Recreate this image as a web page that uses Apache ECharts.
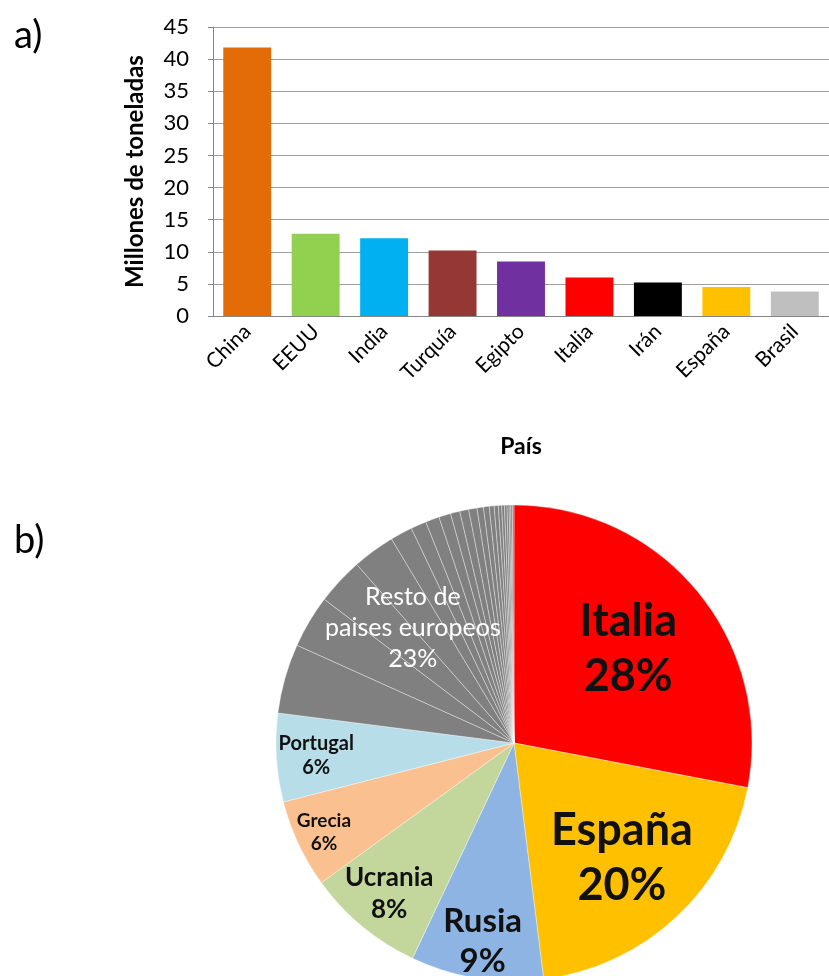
<!DOCTYPE html>
<html>
<head>
<meta charset="utf-8">
<title>Producción</title>
<script src="https://cdn.jsdelivr.net/npm/echarts/dist/echarts.min.js"></script>
<style>
html, body { margin: 0; padding: 0; background: #fff; }
#main { width: 829px; height: 976px; }
</style>
</head>
<body>
<div id="main"></div>
<script>
// a) barras
var paises = ['China', 'EEUU', 'India', 'Turquía', 'Egipto', 'Italia', 'Irán', 'España', 'Brasil'];
var toneladas = [41.8, 12.8, 12.1, 10.2, 8.5, 6.0, 5.2, 4.5, 3.8];
var coloresBarras = ['#E36C09', '#92D050', '#00B0F0', '#953735', '#7030A0', '#FF0000', '#000000', '#FFC000', '#BFBFBF'];

// b) tarta
var piePaises = ['Italia', 'España', 'Rusia', 'Ucrania', 'Grecia', 'Portugal', 'Resto de\npaises europeos'];
var pieValores = [28, 20, 9, 8, 6, 6, 23];
var pieColores = ['#FF0000', '#FFC000', '#8EB4E3', '#C3D69B', '#FAC090', '#B7DEE8', '#808080'];
// el "resto" está partido en muchos países pequeños
var restoValores = [4.72, 3.58, 3.19, 2.89, 1.5, 1.06, 0.94, 0.81, 0.63, 0.61, 0.56, 0.44, 0.39, 0.33, 0.28, 0.22, 0.19, 0.17, 0.14, 0.11, 0.11, 0.11];

// estilo de las etiquetas de la tarta
var etiquetaTam = [45, 45, 33, 26, 19, 20, 25];
var etiquetaDist = [0.61, 0.65, 0.83, 0.81, 0.87, 0.82, 0.63];
var etiquetaColor = ['#111', '#111', '#111', '#111', '#111', '#111', '#fff'];
var etiquetaBold = ['bold', 'bold', 'bold', 'bold', 'bold', 'bold', 'normal'];

var fuente = 'Lato, "Open Sans", sans-serif';
var centro = [514, 743];
var radio = 238;

var chart = echarts.init(document.getElementById('main'));

var datosTarta = [];
for (var i = 0; i < 6; i++) {
    datosTarta.push({ name: piePaises[i], value: pieValores[i], itemStyle: { color: pieColores[i] } });
}
restoValores.forEach(function (v, j) {
    datosTarta.push({ name: 'resto' + j, value: v, itemStyle: { color: pieColores[6] } });
});

var series = [];

series.push({
    type: 'bar',
    data: toneladas.map(function (v, i) {
        return { value: v, itemStyle: { color: coloresBarras[i] } };
    }),
    barWidth: '70%',
    animation: false
});

series.push({
    type: 'pie',
    center: centro,
    radius: radio,
    startAngle: 90,
    clockwise: true,
    data: datosTarta,
    label: { show: false },
    labelLine: { show: false },
    itemStyle: { borderColor: 'rgba(255,255,255,0.45)', borderWidth: 0.8 },
    emphasis: { disabled: true },
    silent: true,
    animation: false
});

// una tarta transparente por etiqueta, para colocar cada texto a su distancia
piePaises.forEach(function (nombre, k) {
    series.push({
        type: 'pie',
        center: centro,
        radius: 2 * etiquetaDist[k] * radio,
        startAngle: 90,
        percentPrecision: 0,
        data: pieValores.map(function (v, i) {
            return {
                name: piePaises[i],
                value: v,
                label: { show: i === k }
            };
        }),
        itemStyle: { color: 'rgba(0,0,0,0)', borderWidth: 0 },
        label: {
            show: true,
            position: 'inside',
            formatter: '{b}\n{d}%',
            color: etiquetaColor[k],
            fontFamily: fuente,
            fontWeight: etiquetaBold[k],
            fontSize: etiquetaTam[k],
            lineHeight: Math.round(etiquetaTam[k] * 1.22)
        },
        labelLine: { show: false },
        emphasis: { disabled: true },
        silent: true,
        animation: false
    });
});

var option = {
    backgroundColor: '#fff',
    textStyle: { fontFamily: fuente },
    title: [
        { text: 'a)', left: 9, top: 12, textStyle: { fontSize: 38, fontWeight: 'normal', color: '#000', fontFamily: fuente } },
        { text: 'b)', left: 9, top: 517, textStyle: { fontSize: 38, fontWeight: 'normal', color: '#000', fontFamily: fuente } }
    ],
    grid: {
        left: 213,
        top: 27,
        width: 616,
        height: 289,
        outerBoundsMode: 'none'
    },
    xAxis: {
        type: 'category',
        data: paises,
        name: 'País',
        nameLocation: 'middle',
        nameGap: 119,
        nameTextStyle: { fontSize: 23, fontWeight: 'bold', color: '#000', fontFamily: fuente },
        axisLine: { lineStyle: { color: '#868686' } },
        axisTick: { show: false },
        axisLabel: { rotate: 45, fontSize: 21, color: '#000', margin: 12, fontFamily: fuente }
    },
    yAxis: {
        type: 'value',
        min: 0,
        max: 45,
        interval: 5,
        name: 'Millones de toneladas',
        nameLocation: 'middle',
        nameRotate: 90,
        nameGap: 66,
        nameTextStyle: { fontSize: 24, fontWeight: 'bold', color: '#000', fontFamily: fuente },
        axisLine: { show: true, lineStyle: { color: '#868686' } },
        axisTick: { show: true, length: 5, lineStyle: { color: '#868686' } },
        axisLabel: { fontSize: 22, color: '#000', margin: 24, fontFamily: fuente },
        splitLine: { lineStyle: { color: '#9F9F9F', width: 1 } }
    },
    series: series
};

chart.setOption(option);
</script>
</body>
</html>
